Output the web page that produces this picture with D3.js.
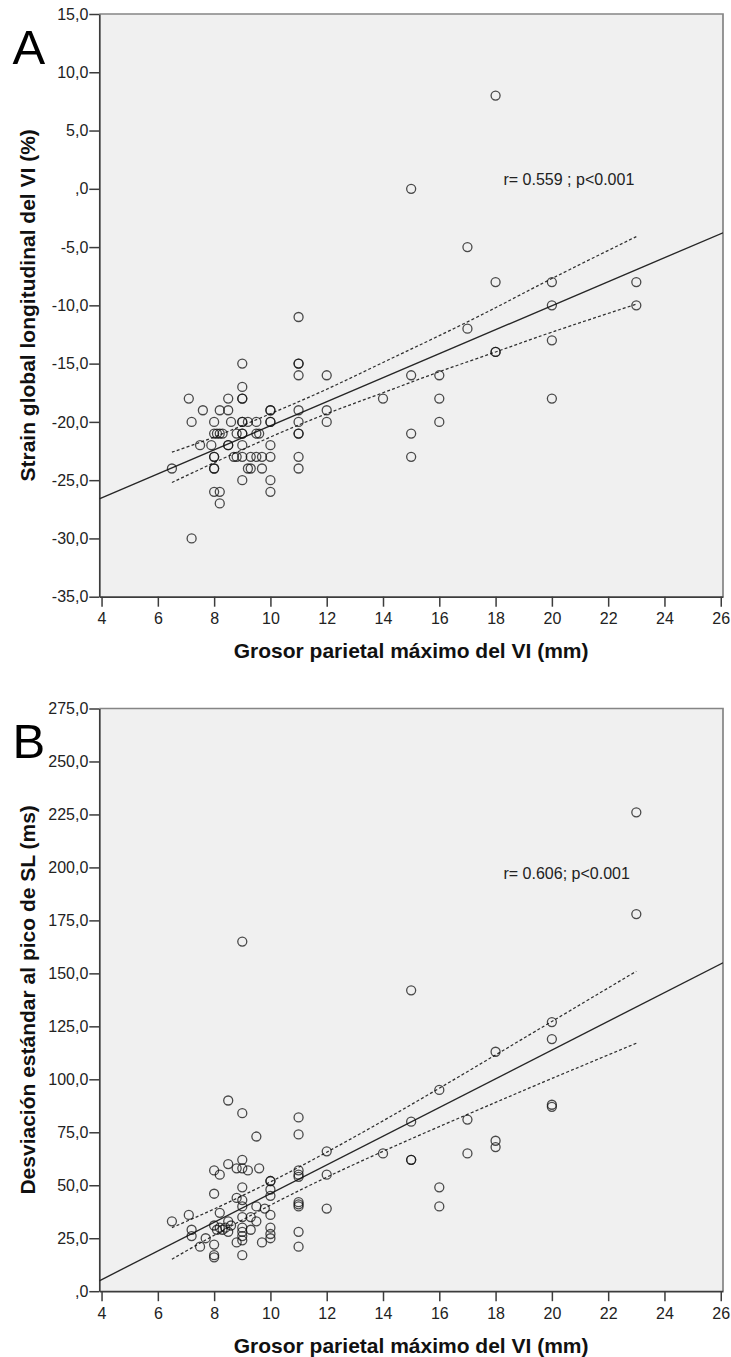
<!DOCTYPE html>
<html>
<head>
<meta charset="utf-8">
<script src="https://cdn.jsdelivr.net/npm/d3@7"></script>
<style>
  body { margin: 0; background: #fff; }
  svg { display: block; }
</style>
</head>
<body>
<svg id="chart" width="731" height="1357"></svg>
<script>
// ---- Panel A: maximum LV wall thickness (mm) vs global longitudinal strain (%) ----
const thicknessA = [6.5,7.1,7.2,7.2,7.5,7.6,7.9,
  8,8,8.1,8.2,8.3,8,8,8,8,8,8.2,8.2,8.2,
  8.5,8.5,8.5,8.5,8.6,8.7,8.8,8.8,
  9,9,9,9,9,9,9,9,9,9,9,
  9.2,9.2,9.3,9.3,9.5,9.5,9.6,9.5,9.7,9.7,
  10,10,10,10,10,10,10,10,
  11,11,11,11,11,11,11,11,11,11,
  12,12,12,14,15,15,15,15,16,16,16,17,17,18,18,18,18,20,20,20,20,23,23];
const strainA = [-24,-18,-20,-30,-22,-19,-22,
  -20,-21,-21,-21,-21,-23,-23,-24,-24,-26,-26,-27,-19,
  -18,-19,-22,-22,-20,-23,-23,-21,
  -15,-17,-18,-18,-20,-20,-21,-21,-22,-23,-25,
  -20,-24,-23,-24,-20,-21,-21,-23,-23,-24,
  -19,-19,-20,-20,-22,-23,-25,-26,
  -11,-15,-15,-16,-19,-20,-21,-21,-23,-24,
  -16,-19,-20,-18,0,-16,-21,-23,-16,-18,-20,-5,-12,8,-8,-14,-14,-8,-10,-13,-18,-8,-10];

// least-squares line (end points at the plot edges) and 95% band of the mean
const fitXA = [3.92, 26.08];
const fitYA = [-26.6, -3.77];
const bandXA = [6.5, 8, 10, 12, 14, 16, 18, 20, 23];
const bandUpperA = [-22.6, -21.3, -19.3, -17.2, -14.9, -12.6, -10.2, -7.7, -4.1];
const bandLowerA = [-25.2, -23.5, -21.3, -19.3, -17.5, -15.7, -14.0, -12.3, -9.9];

const yTicksA = [15, 10, 5, 0, -5, -10, -15, -20, -25, -30, -35];
const yTickLabelsA = ["15,0", "10,0", "5,0", ",0", "-5,0", "-10,0", "-15,0", "-20,0", "-25,0", "-30,0", "-35,0"];

// ---- Panel B: maximum LV wall thickness (mm) vs SD of time to peak SL (ms) ----
const thicknessB = [6.5,7.1,7.2,7.2,7.5,7.7,
  8,8.2,8,8.2,8,8.1,8.2,8.3,8.4,8.5,8.6,8,8,8,
  8.5,8.5,8.5,8.8,8.8,8.8,
  9,9,9,9,9,9,9,9,9,9,9,9,9,
  9.2,9.3,9.3,9.5,9.5,9.5,9.6,9.7,9.8,
  10,10,10,10,10,10,10,10,
  11,11,11,11,11,11,11,11,11,11,
  12,12,12,14,15,15,15,15,16,16,16,17,17,18,18,18,20,20,20,20,23,23];
const sdPeakB = [33,36,29,26,21,25,
  57,55,46,37,31,29,30,29,30,28,31,22,17,16,
  90,60,33,58,44,23,
  84,62,58,49,43,40,35,30,28,26,24,17,165,
  57,35,29,73,40,33,58,23,39,
  52,52,48,45,36,30,27,25,
  82,74,57,55,54,42,41,40,28,21,
  66,55,39,65,142,80,62,62,95,49,40,81,65,113,71,68,127,119,88,87,226,178];

const fitXB = [3.92, 26.08];
const fitYB = [4.9, 155.0];
const bandXB = [6.5, 8, 10, 12, 14, 16, 18, 20, 23];
const bandUpperB = [30.0, 38.8, 51.6, 65.6, 80.4, 95.8, 111.5, 127.3, 151.0];
const bandLowerB = [15.1, 26.4, 40.6, 53.8, 66.0, 77.7, 89.1, 100.4, 117.0];

const yTicksB = [275, 250, 225, 200, 175, 150, 125, 100, 75, 50, 25, 0];
const yTickLabelsB = ["275,0", "250,0", "225,0", "200,0", "175,0", "150,0", "125,0", "100,0", "75,0", "50,0", "25,0", ",0"];

// shared x axis
const xTicks = [4, 6, 8, 10, 12, 14, 16, 18, 20, 22, 24, 26];
const xDomain = [3.92, 26.08];
const xTitle = "Grosor parietal máximo del VI (mm)";

const FONT = "'Liberation Sans', Arial, Helvetica, sans-serif";
const svg = d3.select("#chart");

function drawPanel(cfg) {
  const left = 99.3, right = 723;
  const g = svg.append("g");
  const x = d3.scaleLinear().domain(xDomain).range([left, right]);
  const y = d3.scaleLinear().domain(cfg.yDomain).range([cfg.bottom, cfg.top]);

  // plot area
  g.append("rect")
    .attr("x", left).attr("y", cfg.top)
    .attr("width", right - left).attr("height", cfg.bottom - cfg.top)
    .attr("fill", "#f0f0f0");
  g.append("path")
    .attr("d", `M${left},${cfg.top}H${right}V${cfg.bottom}`)
    .attr("fill", "none").attr("stroke", "#858585").attr("stroke-width", 1.7);

  const clipId = "clip-" + cfg.id;
  svg.append("clipPath").attr("id", clipId).append("rect")
    .attr("x", left).attr("y", cfg.top)
    .attr("width", right - left).attr("height", cfg.bottom - cfg.top);

  // y axis
  const yAxis = d3.axisLeft(y)
    .tickValues(cfg.yTicks)
    .tickFormat((d, i) => cfg.yLabels[i])
    .tickSize(10).tickSizeOuter(0).tickPadding(1);
  const ya = g.append("g").attr("transform", `translate(${left},0)`).call(yAxis);
  ya.select(".domain").attr("stroke", "#3c3c3c").attr("stroke-width", 1.7);
  ya.selectAll(".tick line").attr("stroke", "#3c3c3c").attr("stroke-width", 1.5);
  ya.selectAll(".tick text").attr("font-family", FONT).attr("font-size", 16).attr("fill", "#222");

  // x axis
  const xAxis = d3.axisBottom(x)
    .tickValues(xTicks)
    .tickFormat(d3.format("d"))
    .tickSize(10).tickSizeOuter(0).tickPadding(6);
  const xa = g.append("g").attr("transform", `translate(0,${cfg.bottom})`).call(xAxis);
  xa.select(".domain").attr("stroke", "#3c3c3c").attr("stroke-width", 1.7);
  xa.selectAll(".tick line").attr("stroke", "#3c3c3c").attr("stroke-width", 1.5);
  xa.selectAll(".tick text").attr("font-family", FONT).attr("font-size", 16).attr("fill", "#222");

  const inner = g.append("g").attr("clip-path", `url(#${clipId})`);

  // fit line
  inner.append("path")
    .datum(d3.range(cfg.fitX.length))
    .attr("d", d3.line().x(i => x(cfg.fitX[i])).y(i => y(cfg.fitY[i])))
    .attr("fill", "none").attr("stroke", "#262626").attr("stroke-width", 1.35);

  // confidence band of the mean
  const band = (vals) => d3.line()
    .curve(d3.curveNatural)
    .x(i => x(cfg.bandX[i])).y(i => y(vals[i]));
  [cfg.bandUpper, cfg.bandLower].forEach(vals => {
    inner.append("path")
      .datum(d3.range(cfg.bandX.length))
      .attr("d", band(vals))
      .attr("fill", "none").attr("stroke", "#2e2e2e")
      .attr("stroke-width", 1.25).attr("stroke-dasharray", "3,2.2");
  });

  // observations
  inner.append("g").selectAll("circle")
    .data(d3.range(cfg.xs.length))
    .join("circle")
    .attr("cx", i => x(cfg.xs[i]))
    .attr("cy", i => y(cfg.ys[i]))
    .attr("r", 4.5)
    .attr("fill", "none")
    .attr("stroke", "#111")
    .attr("stroke-opacity", 0.75)
    .attr("stroke-width", 1.3);

  // annotation
  g.append("text")
    .attr("x", 503.5).attr("y", cfg.noteY)
    .attr("font-family", FONT).attr("font-size", 16).attr("fill", "#222")
    .text(cfg.note);

  // panel letter
  g.append("text")
    .attr("x", 12.5).attr("y", cfg.top + 49.5)
    .attr("font-family", FONT).attr("font-size", 49).attr("fill", "#000")
    .text(cfg.letter);

  // axis titles
  g.append("text")
    .attr("transform", `translate(27,${(cfg.top + cfg.bottom) / 2}) rotate(-90)`)
    .attr("text-anchor", "middle").attr("dominant-baseline", "central")
    .attr("font-family", FONT).attr("font-weight", "bold").attr("font-size", 21).attr("fill", "#111")
    .text(cfg.yTitle);
  g.append("text")
    .attr("x", (left + right) / 2).attr("y", cfg.bottom + 61.5)
    .attr("text-anchor", "middle")
    .attr("font-family", FONT).attr("font-weight", "bold").attr("font-size", 21).attr("fill", "#111")
    .text(xTitle);
}

drawPanel({
  id: "a", letter: "A", top: 14, bottom: 596.7,
  yDomain: [-35, 15], yTicks: yTicksA, yLabels: yTickLabelsA,
  xs: thicknessA, ys: strainA,
  fitX: fitXA, fitY: fitYA,
  bandX: bandXA, bandUpper: bandUpperA, bandLower: bandLowerA,
  note: "r= 0.559 ; p<0.001", noteY: 185,
  yTitle: "Strain global longitudinal del VI (%)"
});

drawPanel({
  id: "b", letter: "B", top: 708.5, bottom: 1291.2,
  yDomain: [0, 275], yTicks: yTicksB, yLabels: yTickLabelsB,
  xs: thicknessB, ys: sdPeakB,
  fitX: fitXB, fitY: fitYB,
  bandX: bandXB, bandUpper: bandUpperB, bandLower: bandLowerB,
  note: "r= 0.606; p<0.001", noteY: 878.5,
  yTitle: "Desviación estándar al pico de SL (ms)"
});
</script>
</body>
</html>
